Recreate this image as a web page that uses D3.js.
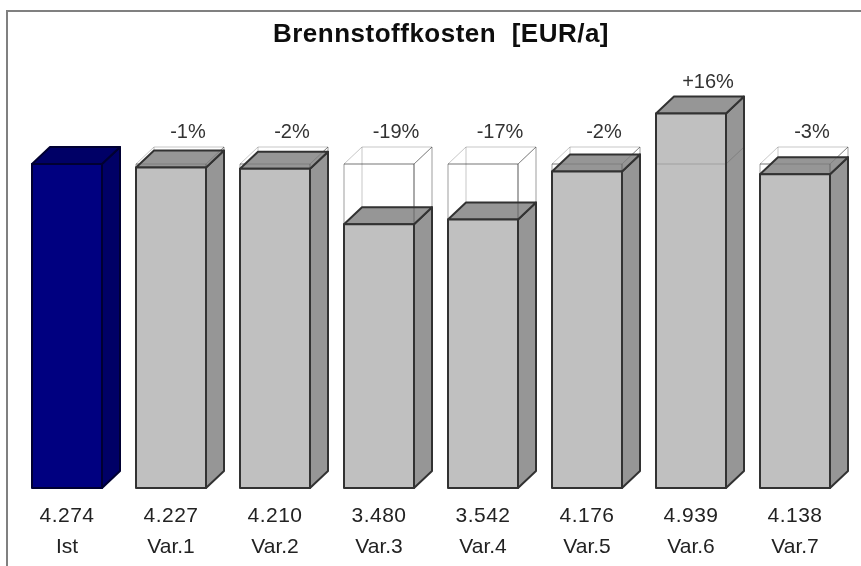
<!DOCTYPE html>
<html>
<head>
<meta charset="utf-8">
<script src="https://cdn.jsdelivr.net/npm/d3@7"></script>
<style>
  html, body { margin: 0; background: #fff; }
  svg { display: block; font-family: "Liberation Sans", Arial, sans-serif; }
</style>
</head>
<body>
<script>
var categories = ["Ist", "Var.1", "Var.2", "Var.3", "Var.4", "Var.5", "Var.6", "Var.7"];
var values = [4274, 4227, 4210, 3480, 3542, 4176, 4939, 4138];
var valueLabels = ["4.274", "4.227", "4.210", "3.480", "3.542", "4.176", "4.939", "4.138"];
var changes = ["", "-1%", "-2%", "-19%", "-17%", "-2%", "+16%", "-3%"];
var reference = values[0];

var width = 861, height = 566,
    baseY = 488,
    depthX = 18, depthY = 17;

var x = d3.scaleBand()
    .domain(categories)
    .range([32, 830])
    .paddingInner(34 / 104)
    .paddingOuter(0);

var y = d3.scaleLinear()
    .domain([0, reference])
    .range([baseY, 164]);

var svg = d3.select("body").append("svg")
    .attr("width", width)
    .attr("height", height);

// the reference is a soft, scaled screenshot
svg.append("defs").append("filter").attr("id", "soft")
    .attr("filterUnits", "userSpaceOnUse")
    .attr("x", 0).attr("y", 0).attr("width", width).attr("height", height)
    .append("feGaussianBlur").attr("stdDeviation", 0.7);

var chart = svg.append("g").attr("filter", "url(#soft)");

chart.append("path")
    .attr("d", "M7," + height + "V11H" + width)
    .attr("fill", "none")
    .attr("stroke", "#808080")
    .attr("stroke-width", 2);

function frontFace(name, v) {
  var l = x(name), r = l + x.bandwidth(), t = y(v);
  return "M" + l + "," + baseY + "V" + t + "H" + r + "V" + baseY + "Z";
}
function topFace(name, v) {
  var l = x(name), r = l + x.bandwidth(), t = y(v);
  return "M" + l + "," + t + "L" + (l + depthX) + "," + (t - depthY) +
    "H" + (r + depthX) + "L" + r + "," + t + "Z";
}
function sideFace(name, v) {
  var r = x(name) + x.bandwidth(), t = y(v);
  return "M" + r + "," + t + "L" + (r + depthX) + "," + (t - depthY) +
    "V" + (baseY - depthY) + "L" + r + "," + baseY + "Z";
}
function rearEdge(name, v) {
  var l = x(name) + depthX;
  return "M" + l + "," + (y(v) - depthY) + "V" + (baseY - depthY);
}

// wire box at the Ist level: back edges sit behind the bar
var ghostsBack = chart.append("g").selectAll("g")
    .data(categories.slice(1))
    .enter().append("g")
    .attr("fill", "none")
    .attr("stroke", "#444")
    .attr("stroke-opacity", 0.3)
    .attr("stroke-width", 1);

ghostsBack.append("path").attr("d", function(d) { return topFace(d, reference); });
ghostsBack.append("path").attr("d", function(d) { return sideFace(d, reference); });
ghostsBack.append("path").attr("d", function(d) { return frontFace(d, reference); });
ghostsBack.append("path").attr("d", function(d) { return rearEdge(d, reference); });

var bars = chart.append("g").selectAll("g")
    .data(categories)
    .enter().append("g")
    .attr("stroke-width", 2)
    .attr("stroke-linejoin", "round");

bars.append("path")
    .attr("d", function(d, i) { return sideFace(d, values[i]); })
    .attr("fill", function(d, i) { return i == 0 ? "#000066" : "#969696"; })
    .attr("stroke", function(d, i) { return i == 0 ? "#000030" : "#333"; });
bars.append("path")
    .attr("d", function(d, i) { return topFace(d, values[i]); })
    .attr("fill", function(d, i) { return i == 0 ? "#000066" : "#969696"; })
    .attr("stroke", function(d, i) { return i == 0 ? "#000030" : "#333"; });
bars.append("path")
    .attr("d", function(d, i) { return frontFace(d, values[i]); })
    .attr("fill", function(d, i) { return i == 0 ? "#000080" : "#c0c0c0"; })
    .attr("stroke", function(d, i) { return i == 0 ? "#000030" : "#333"; });

// front edges of the wire box show faintly through the bar
var ghostsFront = chart.append("g").selectAll("g")
    .data(categories.slice(1))
    .enter().append("g")
    .attr("fill", "none")
    .attr("stroke", "#333")
    .attr("stroke-opacity", 0.22)
    .attr("stroke-width", 1);

ghostsFront.append("path").attr("d", function(d) { return sideFace(d, reference); });
ghostsFront.append("path").attr("d", function(d) { return frontFace(d, reference); });

chart.append("g").selectAll("text")
    .data(categories)
    .enter().append("text")
    .attr("x", function(d) { return x(d) + x.bandwidth() / 2 + 17; })
    .attr("y", function(d, i) { return y(Math.max(values[i], reference)) - depthY - 9; })
    .attr("text-anchor", "middle")
    .attr("font-size", 20)
    .attr("fill", "#333")
    .text(function(d, i) { return changes[i]; });

chart.append("g").selectAll("text")
    .data(categories)
    .enter().append("text")
    .attr("x", function(d) { return x(d) + x.bandwidth() / 2; })
    .attr("y", 522)
    .attr("text-anchor", "middle")
    .attr("font-size", 21)
    .attr("letter-spacing", 0.5)
    .attr("fill", "#222")
    .text(function(d, i) { return valueLabels[i]; });

var axis = chart.append("g")
    .attr("transform", "translate(0,533)")
    .call(d3.axisBottom(x).tickSize(0).tickPadding(0));
axis.select(".domain").remove();
axis.selectAll("text")
    .attr("dy", 0)
    .attr("y", 20)
    .attr("font-size", 21)
    .attr("font-family", '"Liberation Sans", Arial, sans-serif')
    .attr("fill", "#222");

chart.append("text")
    .attr("x", 441)
    .attr("y", 42)
    .attr("text-anchor", "middle")
    .attr("font-size", 26)
    .attr("font-weight", "bold")
    .attr("letter-spacing", 0.5)
    .attr("fill", "#111")
    .style("white-space", "pre")
    .text("Brennstoffkosten  [EUR/a]");
</script>
</body>
</html>
